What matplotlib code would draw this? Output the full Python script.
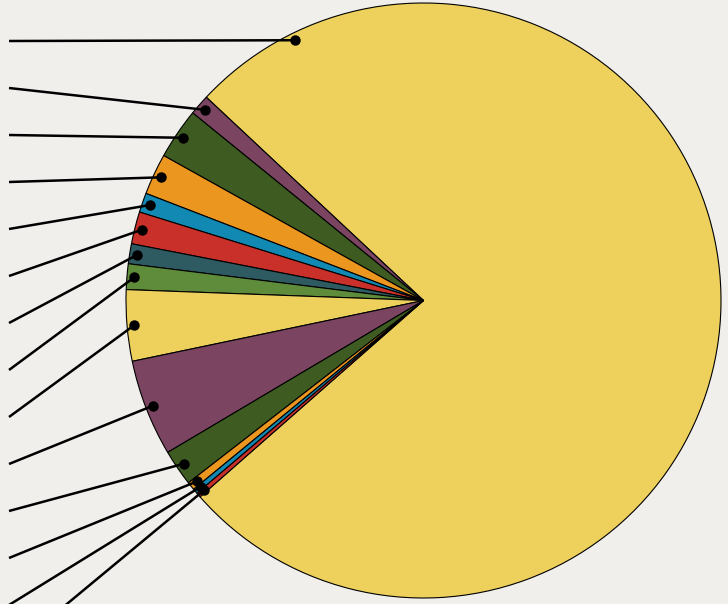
import matplotlib.pyplot as plt
import numpy as np

# slice sizes (in degrees of the circle)
values = [275.6, 4.0, 9.95, 8.05, 3.8, 6.3, 3.9, 5.0, 13.9, 18.9, 7.1, 1.6, 1.0, 0.9]

palette = ['#edd15c', '#7b4561', '#3e5c22', '#eb961e',
           '#1189b3', '#c9302a', '#2e5a62', '#5e8c3a']
colors = [palette[i % len(palette)] for i in range(len(values))]

W, H = 728, 604
cx, cy, R = 423.5, H - 300.5, 297.5
start = 221.3

fig = plt.figure(figsize=(W / 100, H / 100), dpi=100)
fig.patch.set_facecolor('#f0efec')
ax = fig.add_axes([0, 0, 1, 1])
ax.set_facecolor('#f0efec')

wedges, _ = ax.pie(values, colors=colors, startangle=start, counterclock=True,
                   center=(cx, cy), radius=R,
                   wedgeprops=dict(edgecolor='black', linewidth=0.8))

ax.set_xlim(0, W)
ax.set_ylim(0, H)
ax.axis('off')

# leader lines: dot inside each slice, labels stacked on the left
label_y = H - (41 + 47 * np.arange(len(values)))
for i, w in enumerate(wedges):
    mid = (w.theta1 + w.theta2) / 2
    if i == 0:
        mid = 116.2  # big slice's label pushed to the upper left
    a = np.deg2rad(mid)
    px = cx + 0.975 * R * np.cos(a)
    py = cy + 0.975 * R * np.sin(a)
    ax.plot([9, px], [label_y[i], py], color='black', lw=1.8,
            solid_capstyle='butt', clip_on=False)
    ax.plot(px, py, 'o', color='black', ms=6.5)

fig.savefig('out.png', dpi=100, facecolor=fig.get_facecolor())
